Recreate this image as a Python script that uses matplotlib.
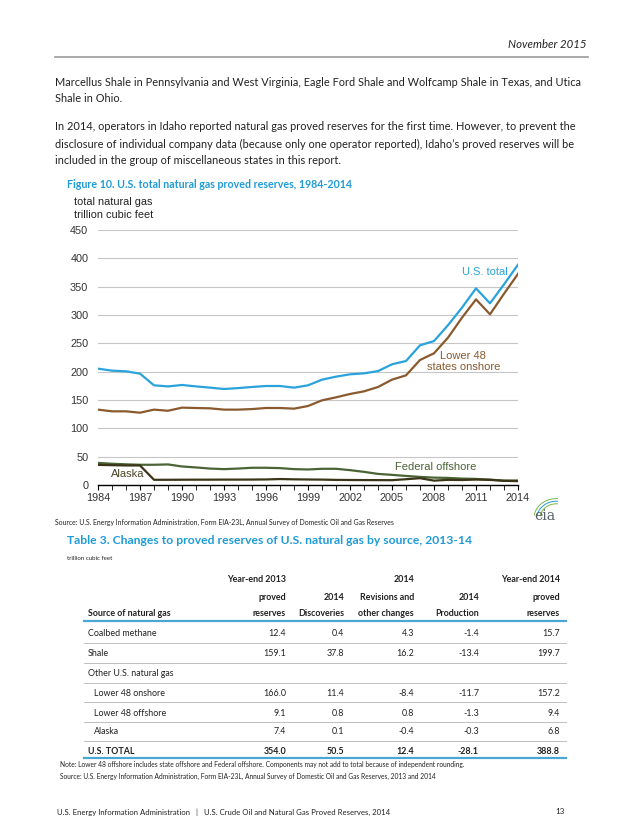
import matplotlib
matplotlib.use("Agg")
import matplotlib.pyplot as plt
from matplotlib.lines import Line2D
import numpy as np

# chart data (trillion cubic feet)
years = list(range(1984, 2015))
us_total = [205.3, 201.8, 200.6, 196.5, 175.9, 174.0, 176.5, 174.0, 171.8, 169.4,
            171.0, 173.0, 174.7, 174.7, 171.8, 175.9, 185.9, 191.2, 195.3, 197.0,
            201.0, 213.0, 218.8, 246.5, 254.0, 282.0, 313.0, 347.0, 320.6, 354.0, 388.8]
lower48_onshore = [133.0, 130.0, 130.0, 127.6, 133.0, 131.0, 136.5, 135.9, 135.3, 133.0,
                   133.0, 134.0, 135.9, 135.9, 134.7, 139.4, 149.4, 154.7, 160.6, 165.3,
                   172.9, 185.9, 193.5, 220.6, 232.4, 260.0, 295.3, 327.6, 301.2, 337.5, 372.6]
federal_offshore = [39.0, 37.5, 36.5, 35.7, 35.7, 36.3, 32.7, 31.0, 29.0, 28.0,
                    29.0, 30.4, 30.4, 29.8, 28.0, 27.4, 28.6, 28.6, 26.2, 23.2,
                    19.6, 17.9, 16.0, 14.3, 13.0, 12.5, 11.3, 10.7, 9.5, 7.7, 8.0]
alaska = [35.5, 35.0, 34.5, 34.5, 9.2, 9.2, 9.3, 9.4, 9.4, 9.5,
          9.5, 9.6, 9.8, 10.5, 10.0, 9.7, 9.5, 9.0, 8.8, 8.7,
          8.6, 8.5, 10.2, 12.0, 7.7, 9.1, 8.8, 9.6, 9.0, 7.4, 6.8]

# table data
row_labels = ["Coalbed methane", "Shale", "Other U.S. natural gas", "Lower 48 onshore",
              "Lower 48 offshore", "Alaska", "U.S. TOTAL"]
row_indent = [False, False, False, True, True, True, False]
col_heads = [["Year-end 2013", "proved", "reserves"],
             ["", "2014", "Discoveries"],
             ["2014", "Revisions and", "other changes"],
             ["", "2014", "Production"],
             ["Year-end 2014", "proved", "reserves"]]
reserves_2013 = ["12.4", "159.1", "", "166.0", "9.1", "7.4", "354.0"]
discoveries = ["0.4", "37.8", "", "11.4", "0.8", "0.1", "50.5"]
revisions = ["4.3", "16.2", "", "-8.4", "0.8", "-0.4", "12.4"]
production = ["-1.4", "-13.4", "", "-11.7", "-1.3", "-0.3", "-28.1"]
reserves_2014 = ["15.7", "199.7", "", "157.2", "9.4", "6.8", "388.8"]

W, H = 638, 826
BLUE = "#1f9bd7"
TEXT = "#222222"
BODY_FONT = "Lato"
CHART_FONT = "Liberation Sans"

fig = plt.figure(figsize=(W / 100, H / 100), dpi=100)
renderer = fig.canvas.get_renderer()


def put(x, y, s, width=None, **kw):
    # place text at page pixel coordinates, optionally scaled to a given width
    kw.setdefault("va", "center")
    kw.setdefault("family", BODY_FONT)
    kw.setdefault("color", TEXT)
    t = fig.text(x / W, 1 - y / H, s, **kw)
    if width:
        w = t.get_window_extent(renderer).width
        t.set_fontsize(t.get_fontsize() * width / w)
    return t


def hline(x0, x1, y, color, lw):
    fig.add_artist(Line2D([x0 / W, x1 / W], [1 - y / H, 1 - y / H],
                          transform=fig.transFigure, color=color, lw=lw))


# page header
put(587, 45, "November 2015", ha="right", style="italic", fontsize=8.2)
hline(55, 588, 57, "#9a9a9a", 1.2)

# body text
t = put(55, 82, "Marcellus Shale in Pennsylvania and West Virginia, Eagle Ford Shale and "
        "Wolfcamp Shale in Texas, and Utica", width=528, fontsize=8)
body_size = t.get_fontsize()
body = [(99, "Shale in Ohio."),
        (126, "In 2014, operators in Idaho reported natural gas proved reserves for the first time. "
              "However, to prevent the"),
        (144, "disclosure of individual company data (because only one operator reported), "
              "Idaho\u2019s proved reserves will be"),
        (161, "included in the group of miscellaneous states in this report.")]
for y, s in body:
    put(55, y, s, fontsize=body_size)

# figure title
put(67, 184, "Figure 10. U.S. total natural gas proved reserves, 1984-2014",
    width=285, fontsize=8, color=BLUE, weight="bold")

# chart
ax = fig.add_axes([98 / W, 1 - 485 / H, 420 / W, 255 / H])
ax.plot(years, us_total, color="#2aa3dc", lw=1.6)
ax.plot(years, lower48_onshore, color="#8a5a2e", lw=1.6)
ax.plot(years, federal_offshore, color="#4b6436", lw=1.6)
ax.plot(years, alaska, color="#3a3518", lw=1.6)
ax.set_xlim(1984, 2014)
ax.set_ylim(0, 450)
ax.set_yticks(range(0, 451, 50))
ax.set_xticks(range(1984, 2015, 3))
ax.set_xticks(range(1984, 2015), minor=True)
ax.grid(axis="y", color="#c6c6c6", lw=0.8)
ax.set_axisbelow(True)
for side in ["left", "right", "top"]:
    ax.spines[side].set_visible(False)
ax.spines["bottom"].set_color("black")
ax.spines["bottom"].set_linewidth(1.0)
ax.tick_params(axis="y", length=0, pad=7, labelsize=7.8, labelcolor="#333333")
ax.tick_params(axis="x", which="both", length=3.5, direction="out", color="black",
               labelsize=7.8, labelcolor="#333333", pad=2)
for lab in ax.get_xticklabels() + ax.get_yticklabels():
    lab.set_family(CHART_FONT)
ax.text(2011.6, 376, "U.S. total", color="#2aa3dc", ha="center", va="center",
        family=CHART_FONT, fontsize=8)
ax.text(2010.1, 218, "Lower 48\nstates onshore", color="#8a5a2e", ha="center", va="center",
        family=CHART_FONT, fontsize=8, linespacing=1.05)
ax.text(2008.1, 31.5, "Federal offshore", color="#4b6436", ha="center", va="center",
        family=CHART_FONT, fontsize=8)
ax.text(1986.1, 19, "Alaska", color="#4a4526", ha="center", va="center",
        family=CHART_FONT, fontsize=8)
put(74, 202, "total natural gas", family=CHART_FONT, fontsize=7.8, color="#222222")
put(74, 215, "trillion cubic feet", family=CHART_FONT, fontsize=7.8, color="#222222")

# eia logo
lax = fig.add_axes([528 / W, 1 - 522 / H, 30 / W, 26 / H])
lax.axis("off")
lax.set_xlim(0, 1)
lax.set_ylim(0, 1)
th = np.linspace(0.35 * np.pi, 0.95 * np.pi, 30)
for r, c in [(0.55, "#7ab648"), (0.65, "#1f9bd7"), (0.75, "#7ab648")]:
    lax.plot(0.95 + r * np.cos(th), 0.15 + r * np.sin(th), color=c, lw=0.7)
lax.text(0.55, 0.22, "eia", family="DejaVu Serif", fontsize=10, color="#55606a",
         ha="center", va="center")

put(55, 522, "Source: U.S. Energy Information Administration, Form EIA-23L, Annual Survey of "
    "Domestic Oil and Gas Reserves", width=345, fontsize=5)

# table
put(67, 540, "Table 3. Changes to proved reserves of U.S. natural gas by source, 2013-14",
    width=405, fontsize=9, color=BLUE, weight="bold")
put(67, 558, "trillion cubic feet", width=46, fontsize=5)

t = put(88, 634, row_labels[0], width=68, fontsize=6.5)
cell_size = t.get_fontsize()

col_right = [286, 344, 414, 479, 560]
head_y = [580, 597, 614]
for j, head in enumerate(col_heads):
    for i, s in enumerate(head):
        if s:
            put(col_right[j], head_y[i], s, ha="right", fontsize=cell_size, weight="bold")
put(88, head_y[2], "Source of natural gas", fontsize=cell_size, weight="bold")
hline(84, 566, 621, "#4aa6d2", 1.6)

row_y = [634, 654, 674, 693, 713, 732, 751]
columns = [reserves_2013, discoveries, revisions, production, reserves_2014]
for i, label in enumerate(row_labels):
    bold = label == "U.S. TOTAL"
    wt = "bold" if bold else "normal"
    if i > 0:
        put(94 if row_indent[i] else 88, row_y[i], label, fontsize=cell_size, weight=wt)
    for j, col in enumerate(columns):
        if col[i]:
            put(col_right[j], row_y[i], col[i], ha="right", fontsize=cell_size, weight=wt)
    if not bold:
        hline(84, 566, row_y[i] + 8.5, "#b4b4b4", 0.6)
hline(84, 566, 758, "#4aa6d2", 1.6)

put(60, 765, "Note: Lower 48 offshore includes state offshore and Federal offshore. Components "
    "may not add to total because of independent rounding.", width=410, fontsize=5)
put(60, 776, "Source: U.S. Energy Information Administration, Form EIA-23L, Annual Survey of "
    "Domestic Oil and Gas Reserves, 2013 and 2014", width=378, fontsize=5)

# footer
put(57, 812, "U.S. Energy Information Administration   |   U.S. Crude Oil and Natural Gas "
    "Proved Reserves, 2014", width=333, fontsize=5.5)
put(565, 812, "13", ha="right", fontsize=5.8)

fig.savefig("out.png", dpi=100)
